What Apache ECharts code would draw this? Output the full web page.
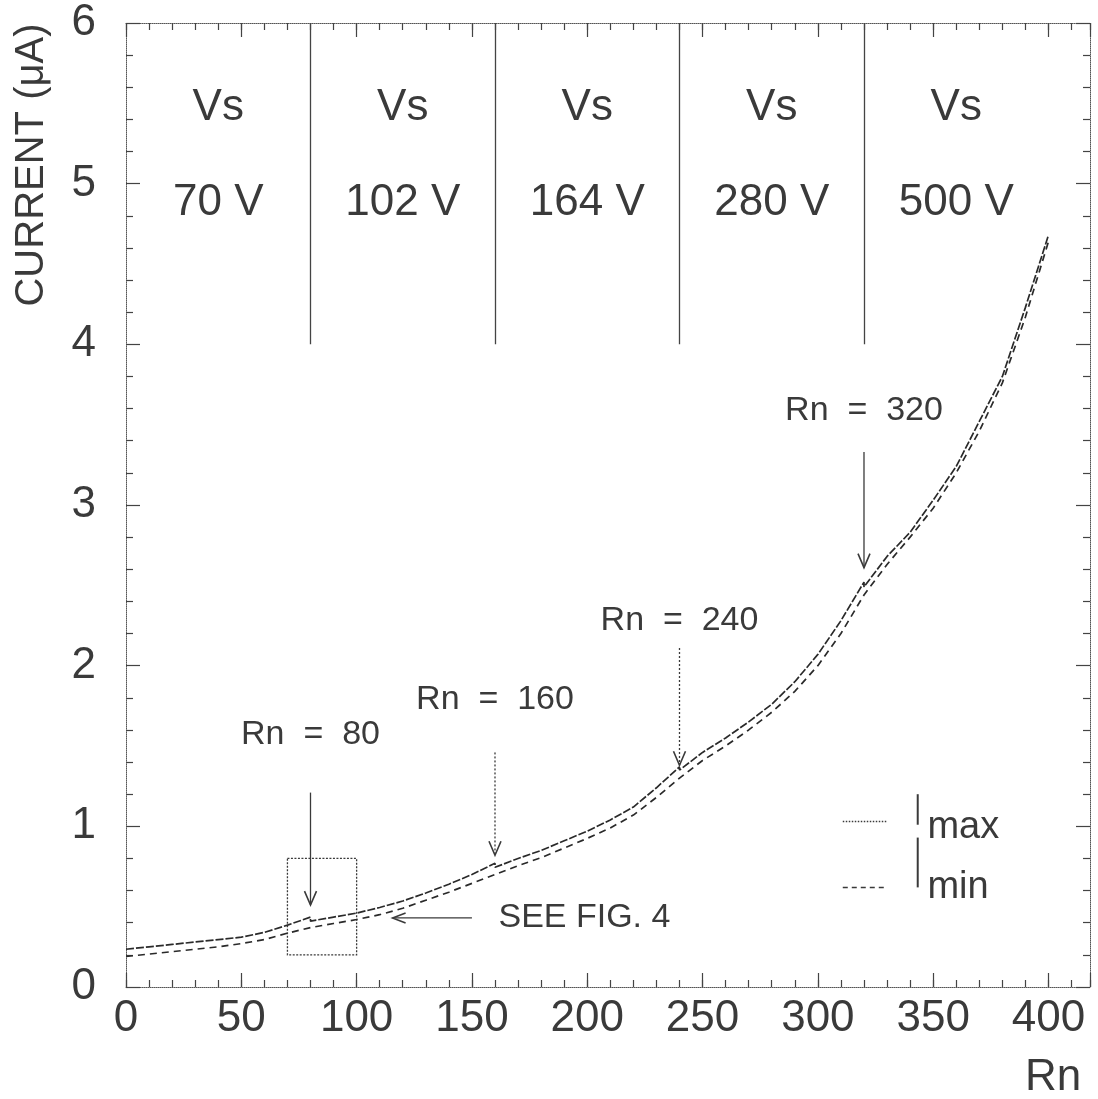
<!DOCTYPE html>
<html><head><meta charset="utf-8">
<script src="https://cdn.jsdelivr.net/npm/echarts@6/dist/echarts.min.js"></script>
<style>html,body{margin:0;padding:0;background:#fff}#c{width:1098px;height:1099px}</style>
</head><body><div id="c"></div>
<script>
// ---- data ----
const rnMax = [0,10,20,30,40,50,60,70,80,80,90,100,110,120,130,140,150,160,160,170,180,190,200,210,220,230,240,240,250,260,270,280,290,300,310,320,320,330,340,350,360,370,380,390,400];
const iMaxVals = [0.235,0.25,0.265,0.28,0.295,0.31,0.34,0.385,0.435,0.41,0.435,0.46,0.495,0.535,0.585,0.64,0.70,0.77,0.745,0.80,0.85,0.91,0.97,1.04,1.12,1.24,1.37,1.35,1.46,1.55,1.65,1.76,1.90,2.07,2.28,2.52,2.49,2.68,2.83,3.03,3.24,3.52,3.80,4.23,4.68];
const rnMin = [0,10,20,30,40,50,60,70,80,90,100,110,120,130,140,150,160,170,180,190,200,210,220,230,240,250,260,270,280,290,300,310,320,330,340,350,360,370,380,390,400];
const iMinVals = [0.19,0.205,0.22,0.235,0.25,0.27,0.295,0.335,0.37,0.395,0.42,0.45,0.49,0.54,0.59,0.645,0.70,0.755,0.805,0.865,0.925,0.99,1.07,1.18,1.30,1.41,1.50,1.60,1.71,1.84,2.00,2.20,2.44,2.63,2.80,2.98,3.20,3.46,3.76,4.17,4.64];
const vsBounds = [80,160,240,320];
const vsCenters = [40,120,200,280,360];
const vsLabels = ['70 V','102 V','164 V','280 V','500 V'];
const arrowRn = [80,160,240,320];
const arrowLabels = ['Rn  =  80','Rn  =  160','Rn  =  240','Rn  =  320'];
const arrowLabelY = [1.57,1.79,2.28,3.59];
const arrowTopY = [1.21,1.46,2.11,3.33];
const arrowTipY = [0.51,0.82,1.38,2.61];
const arrowDotted = [false,true,true,false];
const xTicks = [0,50,100,150,200,250,300,350,400];
const yTicks = [0,1,2,3,4,5,6];

const FONT = 'Liberation Sans';
const INK = '#3a3a3a';
const chart = echarts.init(document.getElementById('c'));
const gridRect = {left:126, right:8, top:23, bottom:112};
const dotted = {type:'dotted', color:'#555', width:1};
function xAx(grid, pos, interval, len, labels){
  return {type:'value', gridIndex:grid, position:pos, min:0, max:418, interval:interval,
    axisLine:{show:grid===0, onZero:false, lineStyle:dotted},
    axisTick:{show:true, inside:true, length:len, lineStyle:{color:'#444', width:1.2}},
    axisLabel:{show:labels, margin:10, fontFamily:FONT, fontSize:44, color:INK,
      formatter:v => xTicks.indexOf(v) >= 0 ? String(v) : ''},
    splitLine:{show:false}};
}
function yAx(grid, pos, labels){
  return {type:'value', gridIndex:grid, position:pos, min:0, max:6, interval:1,
    axisLine:{show:grid===0, onZero:false, lineStyle:dotted},
    axisTick:{show:grid===0, inside:true, length:14, lineStyle:{color:'#444', width:1.2}},
    minorTick:{show:grid===0, splitNumber:5, length:7, lineStyle:{color:'#444', width:1.2}},
    axisLabel:{show:labels, margin:30, fontFamily:FONT, fontSize:44, color:INK,
      formatter:v => yTicks.indexOf(v) >= 0 ? String(v) : ''},
    splitLine:{show:false}};
}
const option = {
  backgroundColor:'#fff',
  animation:false,
  grid:[Object.assign({}, gridRect), Object.assign({}, gridRect)],
  xAxis:[xAx(0,'bottom',50,14,true), xAx(0,'top',50,14,false), xAx(1,'bottom',10,7,false), xAx(1,'top',10,7,false)],
  yAxis:[yAx(0,'left',true), yAx(0,'right',false), yAx(1,'left',false), yAx(1,'right',false)],
  series:[
    {name:'Imax', type:'line', xAxisIndex:0, yAxisIndex:0, showSymbol:false, symbol:'none',
     data: rnMax.map((x,i)=>[x,iMaxVals[i]]),
     lineStyle:{color:'#2a2a2a', width:1.7, type:[8,2]},
     markLine:{silent:true, symbol:['none','none'], label:{show:false},
       lineStyle:{color:'#444', width:1.3, type:'solid'},
       data: vsBounds.map(x=>[{coord:[x,4]},{coord:[x,6]}])}},
    {name:'Imin', type:'line', xAxisIndex:0, yAxisIndex:0, showSymbol:false, symbol:'none',
     data: rnMin.map((x,i)=>[x,iMinVals[i]]),
     lineStyle:{color:'#2a2a2a', width:1.7, type:[7,5]}}
  ]
};
chart.setOption(option);

const P = (x,y) => chart.convertToPixel({xAxisIndex:0, yAxisIndex:0},[x,y]);
const g = [];
function text(str, x, y, size, align, vAlign){
  g.push({type:'text', style:{text:str, x:x, y:y, fontFamily:FONT, fontSize:size, fill:INK,
    textAlign:align||'center', textVerticalAlign:vAlign||'middle'}});
}
function line(p1, p2, dash, w){
  g.push({type:'line', shape:{x1:p1[0],y1:p1[1],x2:p2[0],y2:p2[1]},
    style:{stroke:'#3a3a3a', lineWidth:w||1.3, lineDash:dash||null}});
}
function arrowDown(x, yTop, yTip, dottedLine){
  const a = P(x,yTop), b = P(x,yTip);
  line(a,b, dottedLine?[2,2]:null, 1.3);
  g.push({type:'polyline', shape:{points:[[b[0]-6,b[1]-14],[b[0],b[1]],[b[0]+6,b[1]-14]]},
    style:{stroke:'#3a3a3a', lineWidth:1.6, fill:null}});
}
// Vs labels
vsCenters.forEach((cx,i)=>{
  const a = P(cx,5.47), b = P(cx,4.88);
  text('Vs', a[0], a[1], 44);
  text(vsLabels[i], b[0], b[1], 44);
});
// Rn arrows
arrowRn.forEach((x,i)=>{
  const t = P(x, arrowLabelY[i]);
  text(arrowLabels[i], t[0], t[1], 34);
  arrowDown(x, arrowTopY[i], arrowTipY[i], arrowDotted[i]);
});
// box
{
  const a = P(70,0.8), b = P(100,0.2);
  g.push({type:'rect', shape:{x:a[0], y:a[1], width:b[0]-a[0], height:b[1]-a[1]},
    style:{stroke:'#3a3a3a', lineWidth:1.3, lineDash:[2,1.5], fill:null}});
}
// SEE FIG. 4
{
  const a = P(150,0.43), b = P(115.6,0.43);
  line(a,b,null,1.4);
  g.push({type:'polyline', shape:{points:[[b[0]+13,b[1]-5],[b[0],b[1]],[b[0]+13,b[1]+5]]},
    style:{stroke:'#3a3a3a', lineWidth:1.6, fill:null}});
  const t = P(161.5,0.43);
  text('SEE FIG. 4', t[0], t[1], 34, 'left');
}
// legend
{
  line(P(310.8,1.03), P(329.9,1.03), [1.5,1.5], 1.3);
  line(P(310.8,0.62), P(329.9,0.62), [5,4], 1.5);
  line(P(343.3,1.20), P(343.3,1.01), null, 2);
  line(P(343.3,0.93), P(343.3,0.62), null, 2);
  const m1 = P(347.5,0.99), m2 = P(347.5,0.62);
  text('max', m1[0], m1[1], 38, 'left');
  text('min', m2[0], m2[1], 38, 'left');
}
// axis titles
g.push({type:'text', rotation:Math.PI/2, x:32, y:165, style:{text:'CURRENT (\u03bcA)', fontFamily:FONT, fontSize:40, fill:INK, textAlign:'center', textVerticalAlign:'middle'}});
text('Rn', 1053, 1078, 44);
chart.setOption({graphic:g});
</script></body></html>
